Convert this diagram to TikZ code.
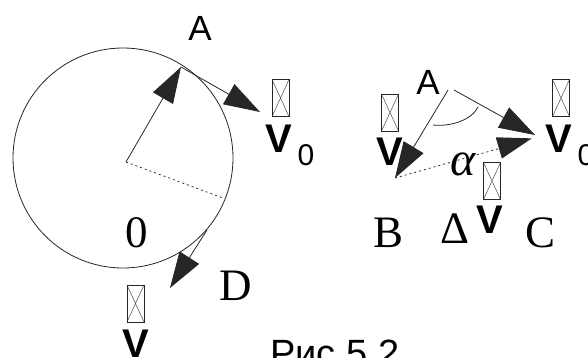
\documentclass[tikz,border=0pt]{standalone}
\usepackage{fontspec}
\setmainfont{Liberation Serif}
\newfontfamily\arialf{Liberation Sans}
\usetikzlibrary{arrows.meta}
\begin{document}
\begin{tikzpicture}[x=1pt,y=-1pt,
  thin line/.style={line width=0.8pt,draw=black!85},
  big arrow/.style={thin line,-{Triangle[length=36pt,width=23pt]}},
  dotline/.style={line width=0.8pt,draw=black!80,dash pattern=on 2pt off 3pt},
  serif lbl/.style={inner sep=0pt,anchor=base,font=\fontsize{45}{45}\selectfont},
  sans lbl/.style={inner sep=0pt,anchor=base,font=\arialf\fontsize{35}{35}\selectfont},
  vec lbl/.style={inner sep=0pt,anchor=base,font=\arialf\bfseries\fontsize{40}{40}\selectfont},
  sub lbl/.style={inner sep=0pt,anchor=base,font=\arialf\fontsize{30}{30}\selectfont},
  glyphbox/.style={draw=black!85,line width=0.7pt,minimum width=17pt,minimum height=37pt,inner sep=0pt,
    path picture={\draw[line width=0.5pt,black!70] (path picture bounding box.north west) -- (path picture bounding box.south east)
      (path picture bounding box.north east) -- (path picture bounding box.south west);}}]
\useasboundingbox (0,0) rectangle (588,357);
% ---- left figure ----
\coordinate (Oc) at (123,158);
\coordinate (O) at (126,162);
\coordinate (Apt) at (181,67);
\coordinate (Tv) at (260,112);
\coordinate (Dd) at (223,198);
\coordinate (Ds) at (207,230);
\coordinate (Dt) at (170,288);
\draw[thin line] (Oc) circle[radius=110pt];
\draw[big arrow] (O) -- (Apt);
\draw[big arrow] (Apt) -- (Tv);
\draw[dotline] (O) -- (Dd);
\draw[big arrow] (Ds) -- (Dt);
\node[sans lbl] (lA) at (200,40) {A};
\node[serif lbl] (l0) at (137,247) {0};
\node[serif lbl] (lD) at (236,300) {D};
\node[glyphbox] (bx1) at (280.5,98) {};
\node[vec lbl] (v1) at (279,152) {V};
\node[sub lbl] (s1) at (306,165) {0};
\node[glyphbox] (bx2) at (135.5,303.5) {};
\node[vec lbl] (v2) at (136,357) {V};
% ---- right figure ----
\coordinate (RA1) at (448,90);
\coordinate (RA2) at (454,90);
\coordinate (RB) at (395,178);
\coordinate (RC1) at (535,135);
\coordinate (RC2) at (533,138);
\draw[big arrow] (RA1) -- (RB);
\draw[big arrow] (RA2) -- (RC1);
\draw[dotline] (RB) -- (501,148);
\draw[big arrow,draw opacity=0] (RB) -- (RC2);
\draw[thin line] (433,125) .. controls (450,127) and (472,120) .. (478,107);
\node[sans lbl] (rA) at (428,94) {A};
\node[serif lbl] (rB) at (389,247) {B};
\node[serif lbl] (rC) at (540,247) {C};
\node[serif lbl] (rDelta) at (455,243) {Δ};
\node[serif lbl,font=\itshape\fontsize{48}{48}\selectfont] (ralpha) at (463,175) {α};
\node[glyphbox] (bx3) at (390,112.5) {};
\node[vec lbl] (v3) at (390,165) {V};
\node[glyphbox] (bx4) at (492,181) {};
\node[vec lbl] (v4) at (490,233) {V};
\node[glyphbox] (bx5) at (561,98) {};
\node[vec lbl] (v5) at (559,152) {V};
\node[sub lbl] (s5) at (586,165) {0};
% ---- caption ----
\node[inner sep=0pt,anchor=base west,font=\arialf\fontsize{38}{38}\selectfont] (cap) at (270,366) {Рис.5.2};
\end{tikzpicture}
\end{document}
